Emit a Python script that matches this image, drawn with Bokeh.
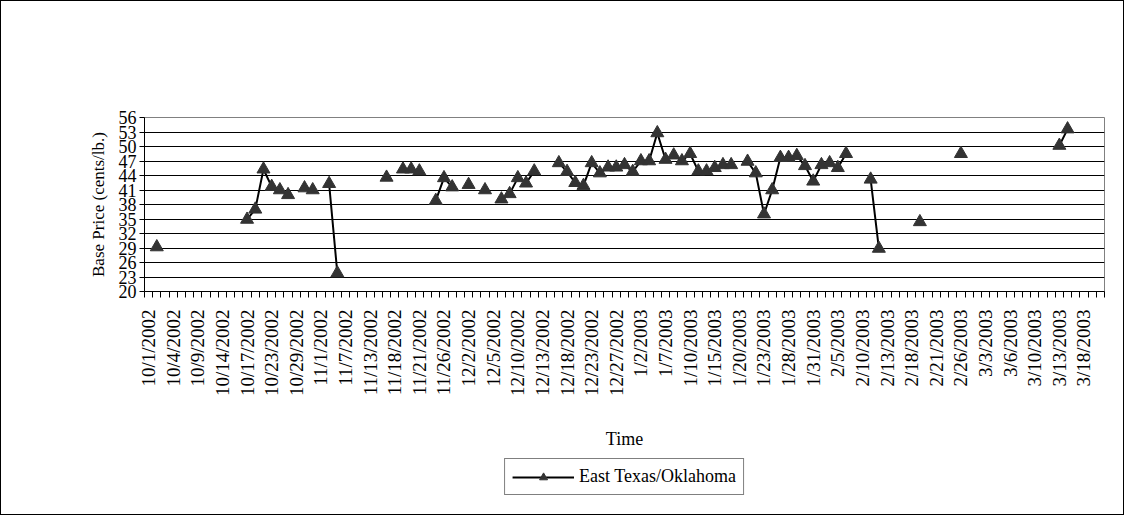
import numpy as np
from bokeh.plotting import figure
from bokeh.layouts import column
from bokeh.models import FixedTicker, Range1d, Legend, LegendItem, ColumnDataSource
from bokeh.embed import file_html
from bokeh.resources import INLINE

tick_labels = ["10/1/2002","10/4/2002","10/9/2002","10/14/2002","10/17/2002","10/23/2002","10/29/2002",
"11/1/2002","11/7/2002","11/13/2002","11/18/2002","11/21/2002","11/26/2002","12/2/2002","12/5/2002",
"12/10/2002","12/13/2002","12/18/2002","12/23/2002","12/27/2002","1/2/2003","1/7/2003","1/10/2003",
"1/15/2003","1/20/2003","1/23/2003","1/28/2003","1/31/2003","2/5/2003","2/10/2003","2/13/2003",
"2/18/2003","2/21/2003","2/26/2003","3/3/2003","3/6/2003","3/10/2003","3/13/2003","3/18/2003"]
n_cat = 117
obs_idx = [1,12,13,14,15,16,17,19,20,22,23,29,31,32,33,35,36,37,39,41,43,44,45,46,47,
           50,51,52,53,54,55,56,57,58,59,60,61,62,63,64,65,66,67,68,69,70,71,73,74,75,76,77,78,79,80,
           81,82,83,84,85,88,89,94,99,111,112]
obs_val = [29.2,34.9,37.0,45.3,41.7,41.0,40.0,41.4,41.0,42.3,23.8,43.6,45.3,45.3,44.9,38.8,43.5,41.6,42.1,41.0,
           39.1,40.2,43.5,42.4,44.9,46.6,44.8,42.5,41.9,46.6,44.5,45.7,45.7,46.2,44.8,47.0,47.0,52.8,47.3,48.2,47.0,
           48.5,44.9,44.9,45.6,46.2,46.2,46.9,44.5,36.0,41.0,47.7,47.7,48.1,46.0,42.8,46.2,46.6,45.6,48.5,
           43.2,28.9,34.4,48.5,50.2,53.6]
series_name = "East Texas/Oklahoma"

y = np.full(n_cat, np.nan)
for i, v in zip(obs_idx, obs_val):
    y[i] = v
src = ColumnDataSource(dict(x=list(range(n_cat)), y=y))

FT = "'Liberation Serif'"   # tick labels
FL = "Liberation Serif"     # axis titles / legend
p = figure(frame_width=960, frame_height=174, output_backend="svg", toolbar_location=None,
           x_range=Range1d(-0.5, n_cat - 0.5), y_range=Range1d(20, 56),
           min_border_left=143, min_border_right=19, min_border_top=116, min_border_bottom=4)
p.outline_line_color = "#808080"
p.xgrid.visible = False
p.ygrid.grid_line_color = "black"

line_kw = dict(line_color="black", line_width=2)
mark_kw = dict(marker="triangle", size=13, fill_color="#333333", line_color="#333333")
p.line("x", "y", source=src, **line_kw)
p.scatter("x", "y", source=src, **mark_kw)

ypos = list(range(20, 57, 3))
p.yaxis.ticker = FixedTicker(ticks=ypos)
p.ygrid.ticker = FixedTicker(ticks=ypos)
p.yaxis.major_label_text_font = FT
p.yaxis.major_label_text_font_size = "18px"
p.yaxis.major_label_text_color = "black"
p.yaxis.major_label_standoff = 3
p.yaxis.axis_label = "Base Price (cents/lb.)"
p.yaxis.axis_label_text_font = FL
p.yaxis.axis_label_text_font_style = "normal"
p.yaxis.axis_label_text_font_size = "17px"
p.yaxis.axis_label_text_color = "black"
p.yaxis.axis_label_standoff = 8
p.yaxis.major_tick_in = 0
p.yaxis.major_tick_out = 5
p.yaxis.minor_tick_out = 0
p.yaxis.minor_tick_in = 0
p.yaxis.axis_line_color = "black"

xpos = [3 * i for i in range(len(tick_labels))]
p.xaxis.ticker = FixedTicker(ticks=xpos, minor_ticks=[k + 0.5 for k in range(-1, n_cat)])
p.xaxis.major_label_overrides = {x: l for x, l in zip(xpos, tick_labels)}
p.xaxis.major_label_orientation = np.pi / 2
p.xaxis.major_label_text_font = FT
p.xaxis.major_label_text_font_size = "19px"
p.xaxis.major_label_text_color = "black"
p.xaxis.major_label_standoff = 12
p.xaxis.major_tick_out = 0
p.xaxis.major_tick_in = 0
p.xaxis.minor_tick_out = 6
p.xaxis.minor_tick_in = 0
p.xaxis.axis_label = "Time"
p.xaxis.axis_label_text_font = FL
p.xaxis.axis_label_text_font_style = "normal"
p.xaxis.axis_label_text_font_size = "18px"
p.xaxis.axis_label_text_color = "black"
p.xaxis.axis_label_standoff = 30
p.xaxis.axis_line_color = "black"

# legend-only figure (its glyph renderers sit outside the visible range)
lg = figure(width=p.frame_width + 162, height=62, output_backend="svg", toolbar_location=None,
            x_range=Range1d(0, 1), y_range=Range1d(0, 1), min_border=0)
lg.axis.visible = False
lg.grid.visible = False
lg.outline_line_color = None
hidden = ColumnDataSource(dict(x=[-10, -9], y=[-10, -10]))
rl = lg.line("x", "y", source=hidden, **line_kw)
rm = lg.scatter("x", "y", source=hidden, **mark_kw)
legend = Legend(items=[LegendItem(label=series_name, renderers=[rl, rm])],
                location="top_center", orientation="horizontal",
                label_text_font=FL, label_text_font_size="18px", label_text_color="black",
                border_line_color="black", border_line_width=1, glyph_width=62,
                padding=7, margin=6)
lg.add_layout(legend)

layout = column(p, lg, spacing=0)
layout.styles = {"border": "1px solid black"}

open("out.html", "w").write(file_html(layout, INLINE))
